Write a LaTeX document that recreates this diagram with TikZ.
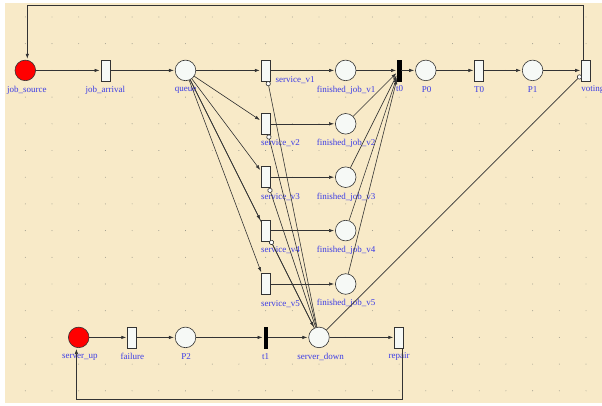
\documentclass[tikz,border=0pt]{standalone}
\usepackage{fontspec}
\setmainfont{Liberation Serif}
\usetikzlibrary{arrows.meta}
\definecolor{bg}{HTML}{F8EAC8}
\definecolor{lbl}{HTML}{3C3CE6}
\definecolor{arcc}{HTML}{333333}
\definecolor{pl}{HTML}{F6F9F6}
\definecolor{dotc}{HTML}{8A8A80}
\begin{document}
\begin{tikzpicture}[x=26.7pt,y=-26.7pt,
 place/.style={circle,draw=arcc,fill=pl,minimum size=20.6pt,inner sep=0pt,line width=0.6pt},
 tokenplace/.style={place,fill=red},
 trans/.style={rectangle,draw=arcc,fill=pl,minimum width=9pt,minimum height=21pt,inner sep=0pt,line width=0.6pt},
 bartrans/.style={rectangle,fill=black,draw=black,minimum width=3.6pt,minimum height=21pt,inner sep=0pt},
 lab/.style={font=\fontsize{9}{10}\selectfont,text=lbl,inner sep=0pt},
 arcl/.style={draw=arcc,line width=0.6pt,-{Latex[length=5pt,width=3.4pt]},shorten >=1pt},
 inh/.style={draw=arcc,line width=0.6pt,-{Circle[length=5pt,width=5pt,fill=white]}},
]
\useasboundingbox (-0.9476,-0.6367) rectangle (21.599,14.532);
\fill[bg] (-0.760,-0.513) rectangle (21.599,14.468);
\foreach \i in {0,...,21} \foreach \j in {0,...,14} \fill[dotc] (\i,\j) circle (0.45pt);

% places and transitions
\node[tokenplace] (job_source) at (0,2) {};
\node[trans] (job_arrival) at (3,2) {};
\node[place] (queue) at (6,2) {};
\node[place] (server_down) at (11,12) {};
% arc drawn first so that service_v4 covers it
\draw[arcl] (queue) -- (server_down);
\foreach \k/\y in {1/2,2/4,3/6,4/8,5/10} {
  \node[trans] (sv\k) at (9,\y) {};
  \node[place] (fj\k) at (12,\y) {};
}
\node[bartrans] (t0) at (14,2) {};
\node[place] (P0) at (15,2) {};
\node[trans] (T0) at (17,2) {};
\node[place] (P1) at (19,2) {};
\node[trans] (voting) at (21,2) {};
\node[tokenplace] (server_up) at (2,12) {};
\node[trans] (failure) at (4,12) {};
\node[place] (P2) at (6,12) {};
\node[bartrans] (t1) at (9,12) {};
\node[trans] (repair) at (14,12) {};

% labels
\path (job_source) ++(0.06,0.73) node[lab] (l_js) {job\_source};
\path (job_arrival) ++(0,0.73) node[lab] (l_ja) {job\_arrival};
\path (queue) ++(0,0.73) node[lab] (l_q) {queue};
\path (sv1.east) ++(0.19,0.38) node[lab,anchor=west] (l_s1) {service\_v1};
\foreach \k in {2,3,4,5} {
  \path (sv\k.west) ++(0,0.74) node[lab,anchor=west] (l_s\k) {service\_v\k};
}
\foreach \k in {1,...,5} {
  \path (fj\k) ++(0.02,0.74) node[lab] (l_f\k) {finished\_job\_v\k};
}
\path (t0) ++(0.02,0.68) node[lab] (l_t0) {t0};
\path (P0) ++(0.03,0.73) node[lab] (l_p0) {P0};
\path (T0) ++(0,0.73) node[lab] (l_T0) {T0};
\path (P1) ++(0,0.73) node[lab] (l_p1) {P1};
\path (voting.west) ++(0,0.73) node[lab,anchor=west] (l_v) {voting};
\path (server_up) ++(0.04,0.74) node[lab] (l_su) {server\_up};
\path (failure) ++(0.01,0.72) node[lab] (l_fa) {failure};
\path (P2) ++(0.02,0.72) node[lab] (l_p2) {P2};
\path (t1) ++(0,0.72) node[lab] (l_t1) {t1};
\path (server_down) ++(0.06,0.74) node[lab] (l_sd) {server\_down};
\path (repair) ++(0,0.70) node[lab] (l_r) {repair};

% arcs
\draw[arcl] (job_source) -- (job_arrival);
\draw[arcl] (job_arrival) -- (queue);
\foreach \k in {1,...,5} {
  \draw[arcl] (queue) -- (sv\k);
  \draw[arcl] (sv\k) -- (fj\k);
  \draw[arcl] (fj\k) -- (t0);
}
\draw[arcl] (t0) -- (P0);
\draw[arcl] (P0) -- (T0);
\draw[arcl] (T0) -- (P1);
\draw[arcl] (P1) -- (voting);
\coordinate (topY) at (0,-0.431);
\coordinate (vtop) at ([xshift=-3pt]voting.north);
\coordinate (jtop) at ([xshift=2pt]job_source.north);
\draw[arcl] (vtop) -- (vtop |- topY) -- (jtop |- topY) -- (jtop);

\draw[arcl] (server_up) -- (failure);
\draw[arcl] (failure) -- (P2);
\draw[arcl] (P2) -- (t1);
\draw[arcl] (t1) -- (server_down);
\draw[arcl] (server_down) -- (repair);
\coordinate (botY) at (0,14.318);
\coordinate (rbot) at ([xshift=2.7pt]repair.south);
\coordinate (sbot) at ([xshift=-2.3pt]server_up.south);
\draw[arcl] (rbot) -- (rbot |- botY) -- (sbot |- botY) -- (sbot);

% inhibitor arcs
\foreach \k in {1,...,4} { \draw[inh] (server_down) -- (sv\k); }
\draw[inh] (server_down) -- (voting);
\end{tikzpicture}
\end{document}
